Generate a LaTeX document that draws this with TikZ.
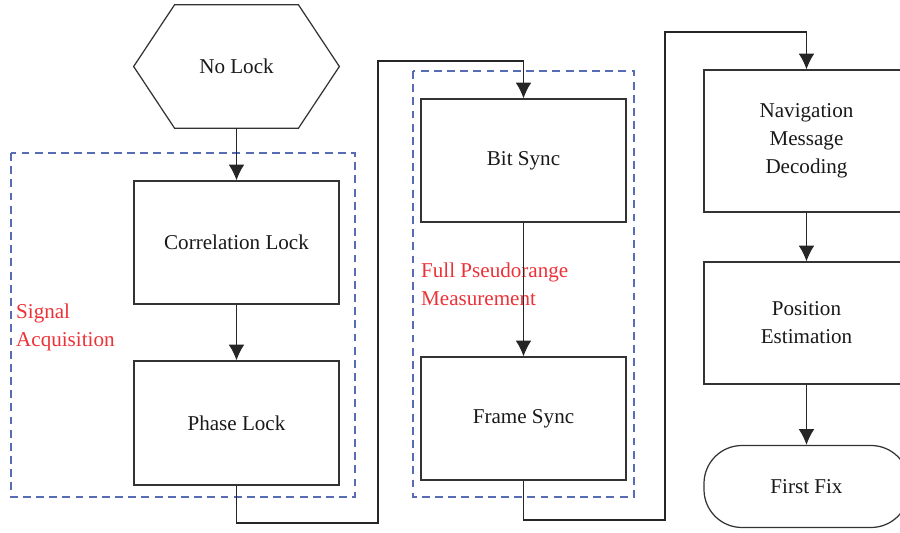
\documentclass[tikz,border=0pt]{standalone}
\usepackage{fontspec}
\setmainfont{Liberation Serif}
\usepackage{tikz}
\usetikzlibrary{arrows.meta,calc}

\definecolor{groupblue}{RGB}{88,108,182}
\definecolor{groupred}{RGB}{236,50,56}

\begin{document}
\begin{tikzpicture}[
    every node/.style={font=\fontsize{12}{15.8}\selectfont, text=black!90},
    block/.style={draw=black!80, line width=0.7pt, minimum width=4.1cm, minimum height=2.46cm, align=center},
    term/.style={block, rounded corners=0.76cm, minimum height=1.64cm},
    flow/.style={draw=black!85, line width=0.75pt, -{Latex[length=9pt,width=9pt]}},
    group/.style={draw=groupblue, line width=0.7pt, dash pattern=on 4.5pt off 3pt},
    grouplabel/.style={text=groupred, align=left, anchor=west}
  ]

   \useasboundingbox (0,0) rectangle (18,-10.66);
   \clip (0,0) rectangle (18,-10.66);

   % first column
   \node[minimum width=4.1cm, minimum height=2.46cm] (nolock) at (4.73,-1.33) {No Lock};
   \draw[draw=black!80, line width=0.7pt]
      ($(nolock.north west)+(0.82,0)$) -- ($(nolock.north east)+(-0.82,0)$) -- (nolock.east)
      -- ($(nolock.south east)+(-0.82,0)$) -- ($(nolock.south west)+(0.82,0)$) -- (nolock.west) -- cycle;
   \node[block] (corrlock) at (4.73,-4.85) {Correlation Lock};
   \node[block, minimum height=2.48cm] (phaselock) at (4.73,-8.46) {Phase Lock};

   % second column
   \node[block] (bitsync) at (10.47,-3.21) {Bit Sync};
   \node[block] (framesync) at (10.47,-8.37) {Frame Sync};

   % third column
   \node[block, minimum height=2.84cm] (navmsg) at (16.13,-2.82) {Navigation\\Message\\Decoding};
   \node[block, minimum height=2.44cm] (posest) at (16.13,-6.46) {Position\\Estimation};
   \node[term] (firstfix) at (16.13,-9.73) {First Fix};

   % groups
   \draw[group] (0.22,-3.06) rectangle (7.1,-9.94);
   \draw[group] (8.26,-1.42) rectangle (12.68,-9.94);
   \node[grouplabel] (acqlabel) at (0.2,-6.55) {Signal\\Acquisition};
   \node[grouplabel] (pseudolabel) at (8.3,-5.68) {Full Pseudorange\\Measurement};

   % bends between the columns
   \coordinate (bendA) at (7.56,-10.46);
   \coordinate (bendB) at (7.56,-1.22);
   \coordinate (bendC) at (13.3,-10.4);
   \coordinate (bendD) at (13.3,-0.64);

   \draw[flow] (nolock) -- (corrlock);
   \draw[flow] (corrlock) -- (phaselock);
   \draw[flow] (phaselock.south) |- (bendA) -- (bendB) -| (bitsync.north);
   \draw[flow] (bitsync) -- (framesync);
   \draw[flow] (framesync.south) |- (bendC) -- (bendD) -| (navmsg.north);
   \draw[flow] (navmsg) -- (posest);
   \draw[flow] (posest) -- (firstfix);

\end{tikzpicture}
\end{document}
